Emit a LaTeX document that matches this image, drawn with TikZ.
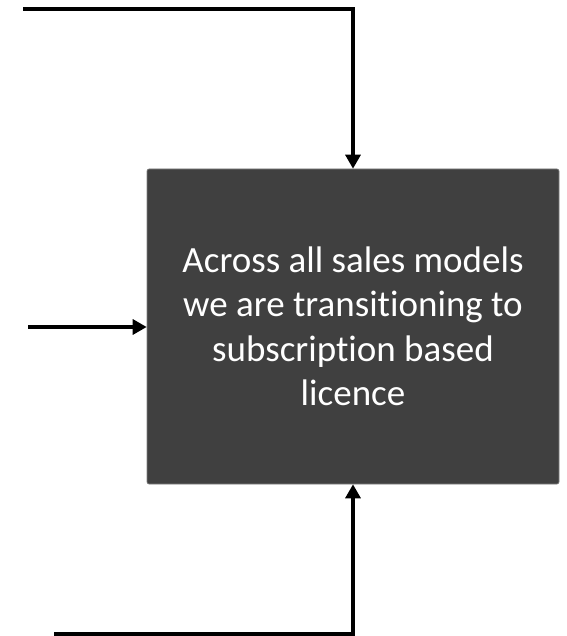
\documentclass[tikz,border=0pt]{standalone}
\usepackage{fontspec}
\setmainfont{Carlito}[RawFeature=-liga]
\usepackage{tikz}
\usetikzlibrary{arrows.meta}
\definecolor{boxgray}{HTML}{404040}

\begin{document}
\begin{tikzpicture}[x=1pt,y=1pt,
	flow/.style={line width=3.2pt,-{Triangle[length=14pt,width=15pt]}},
	block/.style={rectangle,draw=gray,line width=0.6pt,fill=boxgray,rounded corners=2pt,
		minimum width=412pt,minimum height=315pt,text=white,align=center,
		font=\fontsize{37}{44.5}\selectfont}]
\useasboundingbox (0,0) rectangle (566,-636);
\node [block] (box) at (353,-326.5) {Across all sales models\\we are transitioning to\\subscription based\\licence};
\coordinate (topin) at (23,-9);
\coordinate (leftin) at (28,-327);
\coordinate (bottomin) at (54,-634);
\draw [flow] (topin) -| (box.north);
\draw [flow] (leftin) -- (box.west |- leftin);
\draw [flow] (bottomin) -| (box.south);
\end{tikzpicture}
\end{document}
